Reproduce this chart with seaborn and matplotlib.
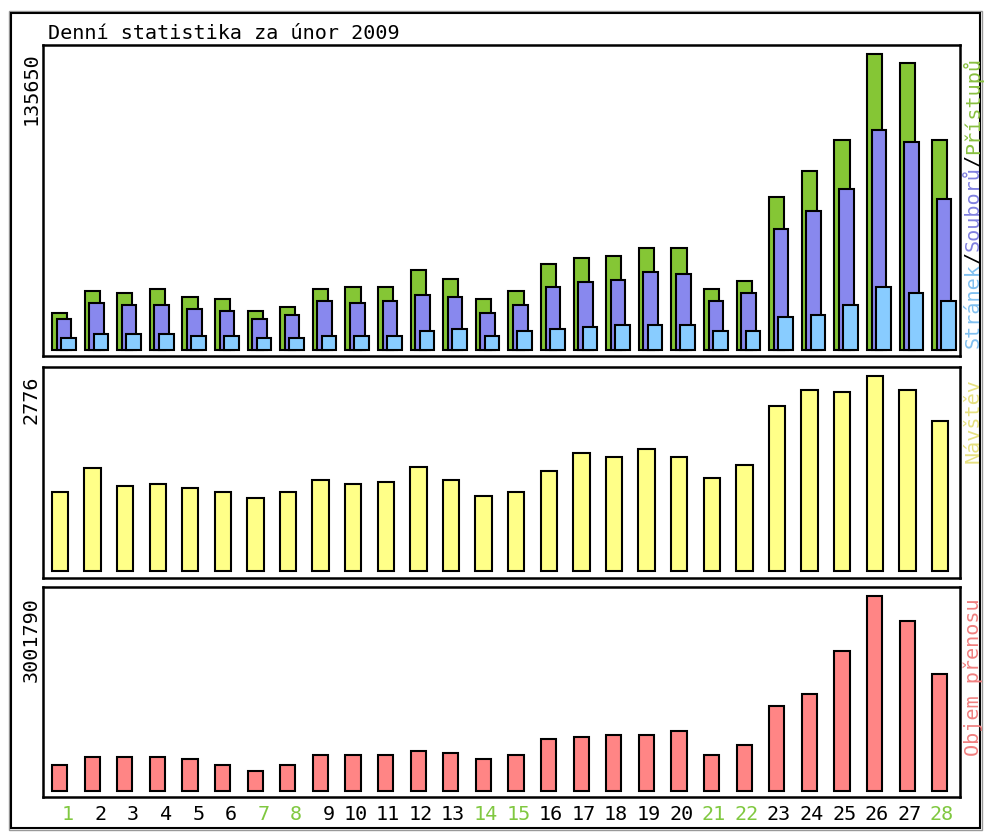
import matplotlib
matplotlib.use("Agg")
import matplotlib.pyplot as plt
import seaborn as sns
from matplotlib.patches import Rectangle
from matplotlib import transforms

# ---------------- data ----------------
days = list(range(1, 29))
weekend_days = [1, 7, 8, 14, 15, 21, 22, 28]
hits = [16950, 27000, 26250, 27950, 24150, 23200, 17700, 19550, 27950, 28850,
        28850, 36500, 32700, 23400, 27200, 39400, 42000, 43100, 46600, 46600,
        28100, 31750, 70250, 82200, 96250, 135650, 131700, 96250]
files = [14050, 21550, 20600, 20600, 18650, 17900, 14050, 15900, 22450, 21550,
         22450, 25200, 24300, 16800, 20600, 29000, 31000, 31900, 35600, 34700,
         22450, 26100, 55300, 63550, 73800, 100800, 95150, 69050]
pages = [5650, 7500, 7500, 7500, 6550, 6550, 5650, 5650, 6550, 6550,
         6550, 8550, 9500, 6550, 8550, 9500, 10400, 11300, 11300, 11300,
         8550, 8550, 15100, 16050, 20600, 29000, 26100, 22450]
visits = [1118, 1460, 1204, 1232, 1175, 1122, 1037, 1122, 1293, 1236,
          1265, 1479, 1293, 1065, 1122, 1422, 1678, 1621, 1735, 1621,
          1322, 1507, 2348, 2577, 2548, 2776, 2577, 2140]
kbytes = [396000, 520000, 520000, 520000, 489000, 396000, 299000, 396000, 555000, 555000,
          555000, 612000, 581000, 489000, 555000, 797000, 828000, 859000, 859000, 920000,
          550000, 705000, 1306000, 1491000, 2154000, 3001790, 2616000, 1799000]
title = "Denní statistika za únor 2009"
label_pages, label_files, label_hits = "Stránek", "Souborů", "Přístupů"
label_visits = "Návštěv"
label_bytes = "Objem přenosu"

# ---------------- style ----------------
W, H = 987, 834
C_HITS, C_FILES, C_PAGES = "#85C635", "#8888EE", "#88CCFF"
C_VISITS, C_BYTES = "#FFFF88", "#FF8585"
T_HITS, T_FILES, T_PAGES = "#88C040", "#8080E0", "#80C0F0"
T_VISITS, T_BYTES = "#E6E080", "#F08080"
WEEKEND_C = "#80C840"
FONT = "DejaVu Sans Mono"
FS = 14.5

sns.set_theme(style="white")
plt.rcParams['font.family'] = [FONT, 'DejaVu Sans']

fig = plt.figure(figsize=(W / 100, H / 100), dpi=100)
fig.patch.set_facecolor("white")

SLOT = 32.6
X0 = 51.0  # pixel of green left edge of day 1


def px2d(px):
    return 1 + (px - X0) / SLOT


def make_ax(top_px, bot_px):
    left, right = 43.5, 960.0
    ax = fig.add_axes([left / W, 1 - bot_px / H, (right - left) / W, (bot_px - top_px) / H])
    ax.set_xlim(px2d(left), px2d(right))
    ax.set_facecolor("white")
    for s in ax.spines.values():
        s.set_color("black")
        s.set_linewidth(1.8)
        s.set_visible(True)
    return ax


ax1 = make_ax(45, 356)
ax2 = make_ax(366.7, 578)
ax3 = make_ax(586.7, 797)


def bars(ax, values, off_px, w_px, color):
    xs = [d + (off_px + w_px / 2) / SLOT for d in days]
    sns.barplot(x=xs, y=values, native_scale=True, width=(w_px - 2) / SLOT,
                color=color, saturation=1, edgecolor="black", linewidth=1.5,
                errorbar=None, orient="x", ax=ax)


bars(ax1, hits, 0, 17.3, C_HITS)
bars(ax1, files, 4.7, 16.6, C_FILES)
bars(ax1, pages, 9.0, 16.7, C_PAGES)
bars(ax2, visits, -0.3, 18.3, C_VISITS)
bars(ax3, kbytes, 0, 17.3, C_BYTES)

m1, m2, m3 = max(hits), max(visits), max(kbytes)
ax1.set_ylim(-6 / 296 * m1, 305 / 296 * m1)
ax2.set_ylim(-7.3 / 194.7 * m2, 204 / 194.7 * m2)
ax3.set_ylim(-6.3 / 194.7 * m3, 204 / 194.7 * m3)

for ax in (ax1, ax2, ax3):
    ax.set_xlim(px2d(43.5), px2d(960))
    ax.set_xticks([])
    ax.set_yticks([])
    ax.set_xlabel("")
    ax.set_ylabel("")

# x labels (day numbers), right aligned like "%2d"
tr = transforms.blended_transform_factory(ax3.transData, fig.transFigure)
for d in days:
    ax3.text(d + 23 / SLOT, 1 - 820 / H, str(d), transform=tr, ha="right",
             va="baseline", fontsize=FS, family=FONT,
             color=WEEKEND_C if d in weekend_days else "black", clip_on=False)

# title
fig.text(48 / W, 1 - 39 / H, title, fontsize=FS, family=FONT, color="black",
         ha="left", va="baseline")

fig.canvas.draw()
renderer = fig.canvas.get_renderer()


def vtext_from_top(pieces, x_px, top_px):
    """pieces given in reading order (bottom->top); stacked downward from top_px."""
    y_disp = H - top_px
    for txt, col in reversed(pieces):
        t = fig.text(x_px / W, y_disp / H, txt, rotation=90, rotation_mode="anchor",
                     ha="right", va="center", fontsize=FS, family=FONT, color=col)
        bb = t.get_window_extent(renderer)
        y_disp = bb.y0


# left max labels
vtext_from_top([(str(m1), "black")], 31, 52)
vtext_from_top([(str(m2), "black")], 31, 376)
vtext_from_top([(str(m3), "black")], 31, 597)

# right labels
vtext_from_top([(label_pages, T_PAGES), ("/", "black"), (label_files, T_FILES),
                ("/", "black"), (label_hits, T_HITS)], 973, 57)
vtext_from_top([(label_visits, T_VISITS)], 973, 378)
vtext_from_top([(label_bytes, T_BYTES)], 973, 598)

# outer frame
fig.patches.append(Rectangle((9 / W, 1 - 830 / H), 973 / W, 819 / H, transform=fig.transFigure,
                             fill=False, edgecolor="#999999", linewidth=1.0))
fig.patches.append(Rectangle((11 / W, 1 - 828 / H), 969 / W, 815 / H, transform=fig.transFigure,
                             fill=False, edgecolor="black", linewidth=1.5))

fig.savefig("out.png", dpi=100, facecolor="white")
